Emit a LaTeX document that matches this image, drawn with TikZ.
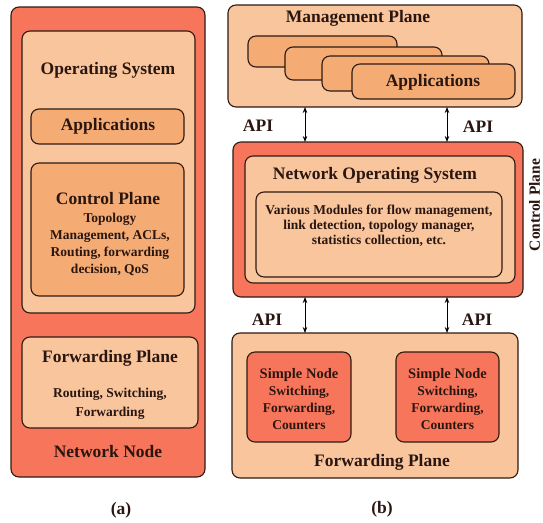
\documentclass[tikz,border=0pt]{standalone}
\usepackage{fontspec}
\setmainfont{Liberation Serif}
\usetikzlibrary{arrows.meta}
\definecolor{nodered}{HTML}{F7765B}
\definecolor{planelight}{HTML}{F9C59D}
\definecolor{appmid}{HTML}{F5AC74}
\definecolor{edge}{HTML}{2E1A12}
\definecolor{ink}{HTML}{2A1610}
\begin{document}
\begin{tikzpicture}[x=1pt, y=-1pt, >={Stealth[length=6pt,width=4.5pt]},
	box/.style={draw=edge, line width=1.1pt, rounded corners=8pt, inner sep=0pt, outer sep=0pt},
	big/.style={text=ink, font=\bfseries\fontsize{17.5}{20}\selectfont},
	small/.style={text=ink, font=\bfseries\fontsize{13.5}{17}\selectfont, align=center}]
			\useasboundingbox (0,0) rectangle (543,522);
			% (a) network node
			\node[box, fill=nodered, minimum width=194pt, minimum height=470pt] (netnode) at (108,242) {};
			\node[box, fill=planelight, minimum width=173pt, minimum height=282pt] (os) at (108.5,172) {};
			\node[box, fill=appmid, minimum width=153pt, minimum height=35pt] (apps) at (107.5,126.5) {};
			\node[box, fill=appmid, minimum width=153pt, minimum height=133pt] (ctrl) at (107.5,229.5) {};
			\node[box, fill=planelight, minimum width=176pt, minimum height=91pt] (fwd) at (110,382.5) {};
			\node[big] (ostext) at (108,70) {Operating System};
			\node[big] (appstext) at (108,126) {Applications};
			\node[big] (ctrltext) at (108,199) {Control Plane};
			\node[small] (ctrlsub) at (110,244) {Topology\\Management, ACLs,\\Routing, forwarding\\decision, QoS};
			\node[big] (fwdtext) at (110,358) {Forwarding Plane};
			\node[small, font=\bfseries\fontsize{13.5}{19}\selectfont] (fwdsub) at (110,404) {Routing, Switching,\\Forwarding};
			\node[big] (nodetext) at (108,452) {Network Node};
			\node[big] (capa) at (121,510) {(a)};
			% (b) SDN
			\node[box, fill=planelight, minimum width=294pt, minimum height=102pt] (mgmt) at (375,56) {};
			\node[box, fill=appmid, minimum width=149pt, minimum height=31pt] (app1) at (322.5,51.5) {};
			\node[box, fill=appmid, minimum width=157pt, minimum height=33pt] (app2) at (363.5,63.5) {};
			\node[box, fill=appmid, minimum width=167pt, minimum height=35pt] (app3) at (405.5,73.5) {};
			\node[box, fill=appmid, minimum width=163pt, minimum height=35pt] (app4) at (433.5,81.5) {};
			\node[big] (mgmttext) at (358,18) {Management Plane};
			\node[big] (app4text) at (433,82) {Applications};
			\node[box, fill=nodered, minimum width=290pt, minimum height=155pt] (nos) at (378,219.5) {};
			\node[box, fill=planelight, minimum width=270pt, minimum height=127pt] (nosin) at (380,219.5) {};
			\node[box, fill=planelight, minimum width=246pt, minimum height=85pt] (modules) at (379,234.5) {};
			\node[big] (nostext) at (375,175) {Network Operating System};
			\node[small, font=\bfseries\fontsize{13.5}{15}\selectfont] (modtext) at (379,226) {Various Modules for flow management,\\link detection, topology manager,\\statistics collection, etc.};
			\node[big, font=\bfseries\fontsize{15.5}{18}\selectfont, rotate=90, inner sep=1pt] (ctrlside) at (534.5,205) {Control Plane};
			\node[box, fill=planelight, minimum width=286pt, minimum height=145pt] (fplane) at (375,405.5) {};
			\node[box, fill=nodered, minimum width=104pt, minimum height=90pt] (sn1) at (299,397) {};
			\node[box, fill=nodered, minimum width=103pt, minimum height=90pt] (sn2) at (447.5,397) {};
			\node[small, font=\bfseries\fontsize{13.5}{17}\selectfont] (sn1text) at (299,399) {{\fontsize{14.5}{17}\selectfont Simple Node}\\Switching,\\Forwarding,\\Counters};
			\node[small, font=\bfseries\fontsize{13.5}{17}\selectfont] (sn2text) at (447.5,399) {{\fontsize{14.5}{17}\selectfont Simple Node}\\Switching,\\Forwarding,\\Counters};
			\node[big] (fplanetext) at (382,462) {Forwarding Plane};
			\node[big] (capb) at (382,509) {(b)};
			% API links
			\coordinate (apil) at (305,0);
			\coordinate (apir) at (447,0);
			\draw[<->, line width=0.8pt] (mgmt.south -| apil) -- (nos.north -| apil);
			\draw[<->, line width=0.8pt] (mgmt.south -| apir) -- (nos.north -| apir);
			\draw[<->, line width=0.8pt] (nos.south -| apil) -- (fplane.north -| apil);
			\draw[<->, line width=0.8pt] (nos.south -| apir) -- (fplane.north -| apir);
			\node[big] (api1) at (258,126) {API};
			\node[big] (api2) at (478,127) {API};
			\node[big] (api3) at (267,320) {API};
			\node[big] (api4) at (477,320) {API};
		\end{tikzpicture}
\end{document}
